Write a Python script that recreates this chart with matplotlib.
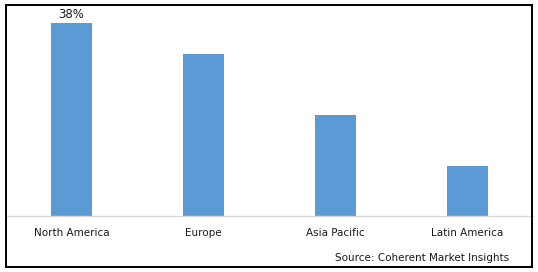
import matplotlib.pyplot as plt
from matplotlib.patches import Rectangle
import numpy as np

W, H = 538, 272

regions = ['North America', 'Europe', 'Asia Pacific', 'Latin America']
shares = [38.0, 31.9, 19.9, 9.8]
label_text = {0: '38%'}

bar_color = '#5B9BD5'

plt.rcParams.update({
    'font.family': 'DejaVu Sans',
    'font.size': 7.5,
})

fig = plt.figure(figsize=(W / 100, H / 100), dpi=100)
ax = fig.add_axes([5.5 / W, (H - 216) / H, (533 - 5.5) / W, (216 - 5) / H])

x = np.arange(len(regions))
ax.bar(x, shares, width=0.31, color=bar_color, zorder=2)
for i, txt in label_text.items():
    ax.text(x[i], shares[i] + 0.3, txt, ha='center', va='bottom',
            fontsize=8.5, color='#1a1a1a')

ax.set_xlim(-0.5, len(regions) - 0.5)
ax.set_ylim(0, 211 / 5.079)
ax.set_xticks(x)
ax.set_xticklabels(regions, color='#1a1a1a')
ax.tick_params(axis='x', length=0, pad=9)
ax.set_yticks([])
for side in ['top', 'right', 'left']:
    ax.spines[side].set_visible(False)
ax.spines['bottom'].set_color('#D9D9D9')
ax.spines['bottom'].set_linewidth(1)

fig.text(509 / W, 1 - 258 / H, 'Source: Coherent Market Insights',
         ha='right', va='center', fontsize=7.5, color='#1a1a1a')

# outer chart frame
fig.patches.append(Rectangle((6 / W, 5 / H), (532 - 6) / W, (267 - 5) / H,
                             transform=fig.transFigure, fill=False,
                             edgecolor='black', linewidth=1.4))

fig.savefig('out.png', dpi=100)
